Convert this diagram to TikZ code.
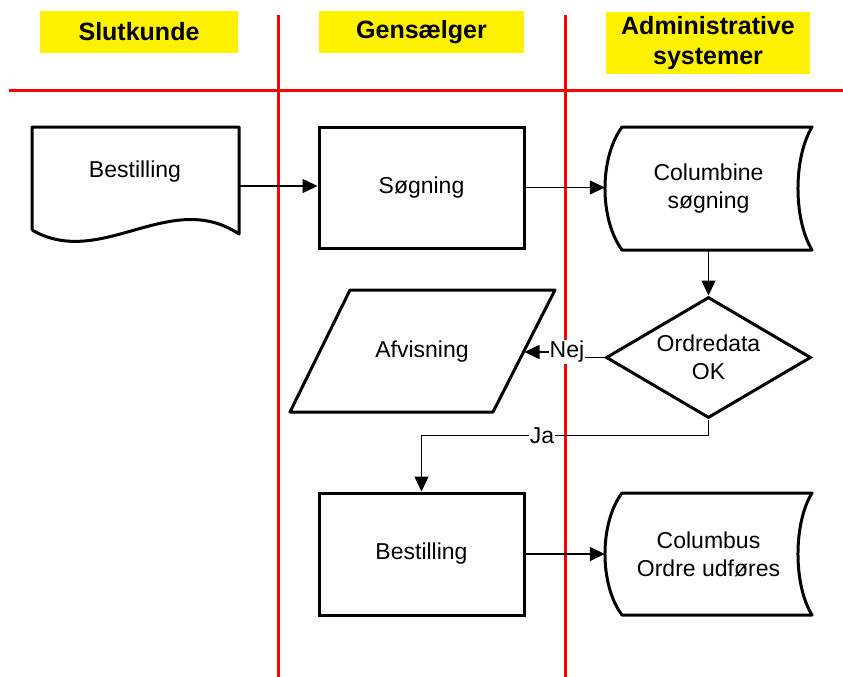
\documentclass[tikz,border=0pt]{standalone}
\usepackage{fontspec}
\setmainfont{Liberation Sans}
\usetikzlibrary{shapes.geometric,arrows.meta}
\begin{document}
\begin{tikzpicture}[x=1pt,y=-1pt,
  lane/.style={red,line width=3pt},
  hdr/.style={fill=yellow,font=\fontsize{25}{30}\selectfont\bfseries,align=center,inner sep=0pt},
  txt/.style={font=\fontsize{23}{28}\selectfont,align=center,inner sep=0pt},
  ghost/.style={txt,inner sep=0pt},
  box/.style={txt,draw,line width=3pt,minimum width=205pt,minimum height=121pt},
  outline/.style={line width=3pt,line join=round},
  conn/.style={line width=1.5pt,-{Triangle[length=15pt,width=14pt]}},
  lbl/.style={fill=white,inner sep=1pt,font=\fontsize{23}{28}\selectfont}
]
\useasboundingbox (0,0) rectangle (843,677);
\fill[white] (0,0) rectangle (843,677);

% headers
\node[hdr,minimum width=198pt,minimum height=42pt] (h1) at (139,32) {Slutkunde};
\node[hdr,minimum width=205pt,minimum height=42pt] (h2) at (421.5,32) {Gensælger};
\node[hdr,minimum width=204pt,minimum height=62pt] (h3) at (708,43) {Administrative\\systemer};

% swimlane lines
\draw[lane] (9,90) -- (843,90);
\draw[lane] (278,15) -- (278,677);
\draw[lane] (565,15) -- (565,677);

% document shape
\node[ghost,minimum width=207pt,minimum height=118pt] (doc) at (135.5,186) {};
\draw[outline] (32,230) -- (32,127) -- (239,127) -- (239,234) .. controls (170,188) and (101,270) .. (32,230);
\node[txt] (doct) at (135,172) {Bestilling};

% Søgning
\node[box] (sog) at (421.5,187.5) {Søgning};

% Columbine stored data
\node[ghost,minimum width=207pt,minimum height=123pt] (cs) at (708.5,188.5) {Columbine\\søgning};
\draw[outline] (622,127) -- (812,127) .. controls (793.3,158) and (793.3,219) .. (812,250) -- (622,250) .. controls (599.3,219) and (599.3,158) .. (622,127) -- cycle;

% decision
\node[txt,draw,diamond,line width=3pt,aspect=1.7,minimum width=205pt,minimum height=121pt] (dia) at (708.5,357.5) {Ordredata\\OK};

% Afvisning parallelogram
\node[txt] (afv) at (422,352) {Afvisning};
\draw[outline] (350,290) -- (555,290) -- (493,412) -- (290,412) -- cycle;
\coordinate (afvR) at (524.5,352);

% bottom row
\node[box,minimum height=122pt] (best) at (421.5,554) {Bestilling};
\node[ghost,minimum width=207pt,minimum height=122pt] (cb) at (708.5,554) {Columbus\\Ordre udføres};
\draw[outline] (622,493) -- (812,493) .. controls (793.3,523) and (793.3,585) .. (812,615) -- (622,615) .. controls (599.3,585) and (599.3,523) .. (622,493) -- cycle;

% connectors
\draw[conn] (doc.east) -- (doc.east -| sog.west);
\draw[conn] (sog.east) -- (sog.east -| cs.west);
\draw[conn] (cs.south) -- (dia.north);
\draw[conn] (dia.west) -- ++(-21,0) |- node[lbl,pos=0.64]{Nej} (afvR);
\draw[conn] (dia.south) -- ++(0,16) -| node[lbl,pos=0.29]{Ja} (best.north);
\draw[conn] (best.east) -- (best.east -| cb.west);
\end{tikzpicture}
\end{document}
